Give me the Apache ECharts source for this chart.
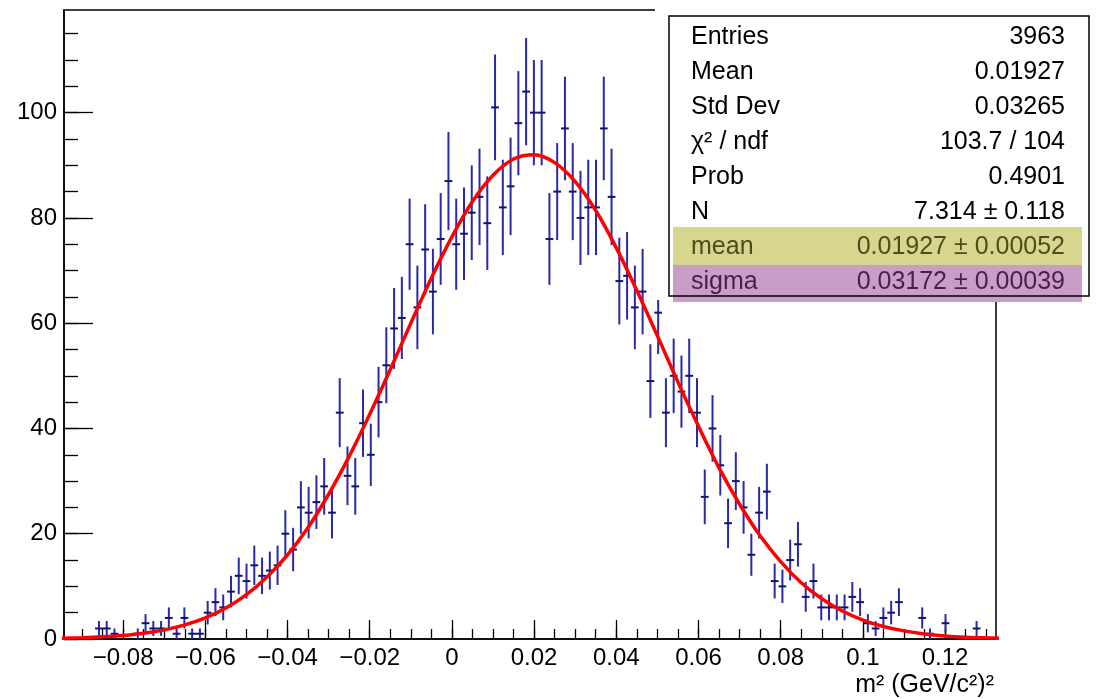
<!DOCTYPE html>
<html>
<head>
<meta charset="utf-8">
<script src="https://cdn.jsdelivr.net/npm/echarts@6/dist/echarts.min.js"></script>
<style>
html,body{margin:0;padding:0;background:#fff;}
#c{width:1096px;height:699px;}
</style>
</head>
<body>
<div id="c"></div>
<script>
// ---------------- data ----------------
const xMin = -0.0944;
const xMax = 0.1324;
const yMax = 119.5;
const nBins = 120;
// bin contents (120 bins, left to right)
const counts = [
  0, 0, 0, 0, 2, 2, 1, 0, 0, 1,
  3, 2, 2, 4, 1, 4, 1, 1, 5, 7,
  6, 9, 12, 11, 14, 12, 13, 14, 20, 17,
  25, 24, 26, 29, 24, 43, 31, 29, 41, 35,
  45, 52, 59, 61, 75, 63, 74, 66, 76, 87,
  75, 77, 81, 84, 79, 101, 82, 86, 98, 104,
  100, 100, 76, 85, 97, 85, 80, 82, 82, 97,
  84, 68, 69, 63, 66, 49, 62, 43, 50, 47,
  50, 43, 27, 40, 33, 22, 30, 25, 16, 24,
  28, 11, 10, 15, 18, 8, 11, 6, 6, 6,
  6, 8, 7, 3, 2, 4, 5, 7, 0, 0,
  4, 1, 0, 3, 0, 0, 0, 2, 0, 0
];
// fitted curve
const fitX = [-0.095,-0.09,-0.085,-0.08,-0.075,-0.07,-0.065,-0.06,-0.055,-0.05,
  -0.045,-0.04,-0.035,-0.03,-0.025,-0.02,-0.015,-0.01,-0.005,0,
  0.005,0.01,0.015,0.02,0.025,0.03,0.035,0.04,0.045,0.05,
  0.055,0.06,0.065,0.07,0.075,0.08,0.085,0.09,0.095,0.1,
  0.105,0.11,0.115,0.12,0.125,0.13,0.135];
const fitY = [0.14,0.24,0.41,0.68,1.10,1.74,2.68,4.03,5.90,8.43,
  11.8,16.0,21.2,27.5,34.7,42.7,51.2,60.0,68.6,76.4,
  83.1,88.1,91.2,92.0,90.5,86.9,81.4,74.3,66.2,57.6,
  48.8,40.4,32.5,25.6,19.6,14.7,10.7,7.65,5.31,3.60,
  2.38,1.54,0.97,0.59,0.35,0.21,0.12];
// axis ticks
const xMajorTicks = [-0.08,-0.06,-0.04,-0.02,0,0.02,0.04,0.06,0.08,0.1,0.12];
const xMajorLabels = ['\u22120.08','\u22120.06','\u22120.04','\u22120.02','0','0.02','0.04','0.06','0.08','0.1','0.12'];
const xMinorTicks = [-0.09,-0.085,-0.08,-0.075,-0.07,-0.065,-0.06,-0.055,-0.05,-0.045,
  -0.04,-0.035,-0.03,-0.025,-0.02,-0.015,-0.01,-0.005,0,0.005,
  0.01,0.015,0.02,0.025,0.03,0.035,0.04,0.045,0.05,0.055,
  0.06,0.065,0.07,0.075,0.08,0.085,0.09,0.095,0.1,0.105,
  0.11,0.115,0.12,0.125,0.13];
const yMajorTicks = [0,20,40,60,80,100];
const yMinorTicks = [0,5,10,15,20,25,30,35,40,45,50,55,60,65,70,75,80,85,90,95,100,105,110,115];
const xTitle = 'm\u00b2 (GeV/c\u00b2)\u00b2';
// statistics box
const statLabels = ['Entries','Mean','Std Dev','\u03c7\u00b2 / ndf','Prob','N','mean','sigma'];
const statValues = ['3963','0.01927','0.03265','103.7 / 104','0.4901','7.314 \u00b1 0.118','0.01927 \u00b1 0.00052','0.03172 \u00b1 0.00039'];

// ---------------- chart ----------------
const bw = (xMax - xMin) / nBins;
const histData = counts.map((c, i) => [xMin + (i + 0.5) * bw, c]);
const fitData = fitX.map((x, i) => [x, fitY[i]]);
const FONT = '"Liberation Sans", Arial, Helvetica, sans-serif';

function xLabel(v) {
  for (let i = 0; i < xMajorTicks.length; i++) {
    if (Math.abs(xMajorTicks[i] - v) < 1e-9) return xMajorLabels[i];
  }
  return '';
}

const chart = echarts.init(document.getElementById('c'), null, {renderer: 'canvas'});

const statsGraphics = [];
// white area of the stats pave
statsGraphics.push({type:'rect', z:100, shape:{x:655, y:0, width:441, height:300}, style:{fill:'#ffffff'}});
// coloured rows
statsGraphics.push({type:'rect', z:101, shape:{x:673, y:227, width:409, height:38}, style:{fill:'#d6d68f'}});
statsGraphics.push({type:'rect', z:101, shape:{x:673, y:265, width:409, height:37}, style:{fill:'#c99ec6'}});
// border
statsGraphics.push({type:'rect', z:102, shape:{x:669, y:16, width:420, height:280}, style:{fill:'none', stroke:'#000', lineWidth:1.5}});
const rowColors = ['#000','#000','#000','#000','#000','#000','#4d4d1c','#4d1c4a'];
statLabels.forEach((t, i) => {
  const y = 36.7 + 35 * i;
  statsGraphics.push({type:'text', z:103, x:691, y:y,
    style:{text:t, fill:rowColors[i], font:'25px ' + FONT, textAlign:'left', textVerticalAlign:'middle', align:'left', verticalAlign:'middle'}});
  statsGraphics.push({type:'text', z:103, x:1065, y:y,
    style:{text:statValues[i], fill:rowColors[i], font:'25px ' + FONT, textAlign:'right', textVerticalAlign:'middle', align:'right', verticalAlign:'middle'}});
});
// x-axis title
statsGraphics.push({type:'text', z:103, x:994, y:685,
  style:{text:xTitle, fill:'#000', font:'25px ' + FONT, textAlign:'right', textVerticalAlign:'middle', align:'right', verticalAlign:'middle'}});

const option = {
  animation: false,
  backgroundColor: '#ffffff',
  grid: {left:64, right:100, top:10, bottom:60, show:true, borderColor:'#000', borderWidth:1.5, backgroundColor:'transparent', containLabel:false, outerBoundsMode:'none'},
  xAxis: [
    {type:'value', min:xMin, max:xMax, position:'bottom', offset:0,
     axisLine:{show:true, onZero:false, lineStyle:{color:'#000', width:1.5}},
     axisTick:{show:true, inside:true, length:19, customValues:xMajorTicks, lineStyle:{color:'#000', width:1.3}},
     axisLabel:{show:true, customValues:xMajorTicks, formatter:xLabel, color:'#000', fontSize:24, fontFamily:FONT, margin:7},
     splitLine:{show:false}, minorTick:{show:false}},
    {type:'value', min:xMin, max:xMax, position:'bottom', offset:0,
     axisLine:{show:false, onZero:false},
     axisTick:{show:true, inside:true, length:10, customValues:xMinorTicks, lineStyle:{color:'#000', width:1.3}},
     axisLabel:{show:false},
     splitLine:{show:false}}
  ],
  yAxis: [
    {type:'value', min:0, max:yMax, position:'left', offset:0,
     axisLine:{show:true, onZero:false, lineStyle:{color:'#000', width:1.5}},
     axisTick:{show:true, inside:true, length:29, customValues:yMajorTicks, lineStyle:{color:'#000', width:1.3}},
     axisLabel:{show:true, customValues:yMajorTicks, color:'#000', fontSize:24, fontFamily:FONT, margin:7},
     splitLine:{show:false}},
    {type:'value', min:0, max:yMax, position:'left', offset:0,
     axisLine:{show:false, onZero:false},
     axisTick:{show:true, inside:true, length:14, customValues:yMinorTicks, lineStyle:{color:'#000', width:1.3}},
     axisLabel:{show:false},
     splitLine:{show:false}}
  ],
  series: [
    {
      type:'custom', name:'hist', xAxisIndex:0, yAxisIndex:0, z:2,
      data: histData,
      renderItem: function (params, api) {
        const x = api.value(0), y = api.value(1);
        if (!(y > 0)) return null;
        const e = Math.sqrt(y);
        const pc = api.coord([x, y]);
        const pl = api.coord([x - bw / 2, y]);
        const pr = api.coord([x + bw / 2, y]);
        const pt = api.coord([x, Math.min(y + e, yMax)]);
        const pb = api.coord([x, Math.max(y - e, 0)]);
        return {type:'group', children:[
          {type:'line', shape:{x1:pc[0], y1:pt[1], x2:pc[0], y2:pb[1]}, style:{stroke:'#2a2aa6', lineWidth:2}},
          {type:'line', shape:{x1:pl[0], y1:pc[1], x2:pr[0], y2:pc[1]}, style:{stroke:'#12126e', lineWidth:2}}
        ]};
      }
    },
    {
      type:'line', name:'fit', xAxisIndex:0, yAxisIndex:0, z:5,
      data: fitData, showSymbol:false, symbol:'none', smooth:0.35, clip:true,
      lineStyle:{color:'#ff0000', width:3.5}
    }
  ],
  graphic: statsGraphics
};
chart.setOption(option);
</script>
</body>
</html>
